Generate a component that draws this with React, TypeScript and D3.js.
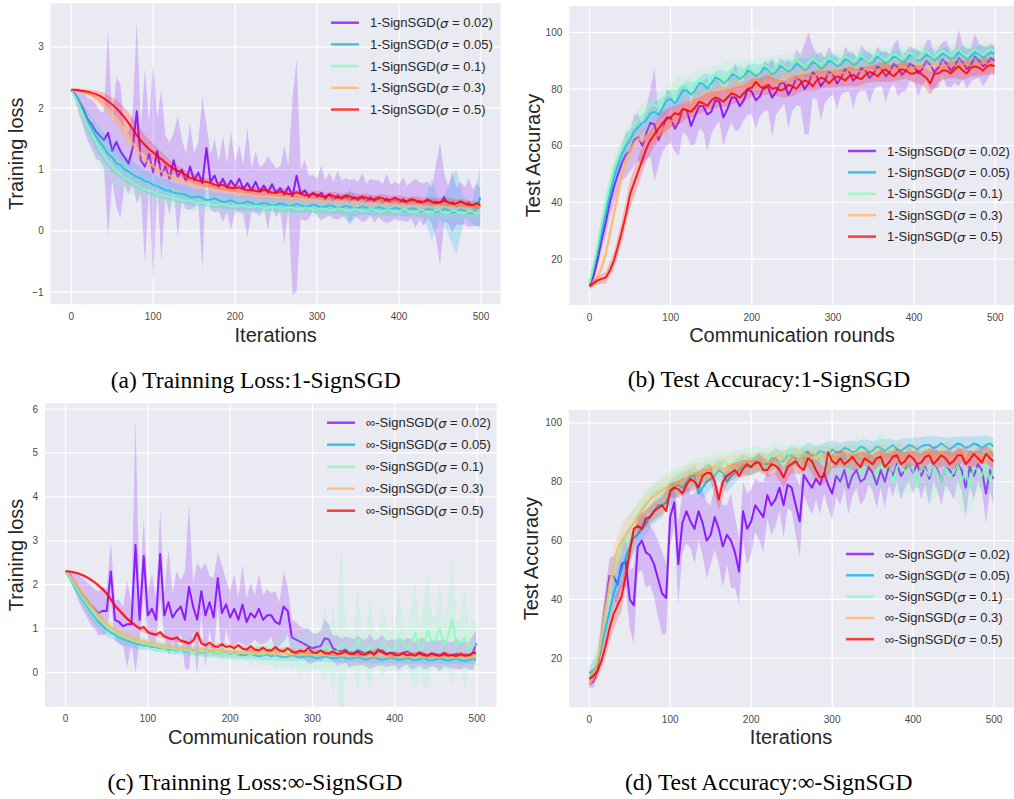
import React from "react";
import * as d3 from "d3";

// x grids: fine (every 5 iterations) for the mean lines, coarse (every 10) for the smoother bands
const ITER = [0,5,10,15,20,25,30,35,40,45,50,55,60,65,70,75,80,85,90,95,
100,105,110,115,120,125,130,135,140,145,150,155,160,165,170,175,180,185,190,195,
200,205,210,215,220,225,230,235,240,245,250,255,260,265,270,275,280,285,290,295,
300,305,310,315,320,325,330,335,340,345,350,355,360,365,370,375,380,385,390,395,
400,405,410,415,420,425,430,435,440,445,450,455,460,465,470,475,480,485,490,495,499];
const ITER_C = [0,10,20,30,40,50,60,70,80,90,100,110,120,130,140,150,160,170,180,190,200,210,220,230,240,250,260,270,280,290,300,310,320,330,340,350,360,370,380,390,400,410,420,430,440,450,460,470,480,490,499];
const X_TICKS = [0,100,200,300,400,500];
const COLORS = ["#8000ff","#00b4eb","#80ffb4","#ffb462","#ff0000"];
const SIGMAS = ["0.02","0.05","0.1","0.3","0.5"];

// ---------- Panel (a): Training loss, 1-SignSGD ----------
const A_P = [2.30,2.22,2.10,1.98,1.82,1.74,1.62,1.55,1.48,1.60,
1.30,1.45,1.30,1.20,1.10,1.35,1.95,1.15,1.05,1.25,
0.95,1.30,0.90,1.05,0.85,1.15,0.88,1.00,0.80,1.05,
0.82,0.95,0.78,1.35,0.80,0.90,0.72,0.85,0.70,0.82,
0.72,0.85,0.68,0.78,0.66,0.80,0.64,0.74,0.62,0.76,
0.62,0.70,0.58,0.72,0.56,0.90,0.60,0.66,0.55,0.62,
0.55,0.62,0.52,0.60,0.50,0.58,0.52,0.56,0.48,0.55,
0.50,0.54,0.47,0.55,0.48,0.52,0.46,0.53,0.45,0.50,
0.46,0.52,0.44,0.50,0.45,0.49,0.43,0.50,0.42,0.48,
0.44,0.55,0.42,0.47,0.40,0.45,0.41,0.46,0.38,0.43,0.40];
const A_P_SD = [0.00,0.10,0.22,0.30,0.35,0.40,0.45,0.40,0.45,1.70,
0.50,1.05,1.10,0.45,0.50,0.60,1.50,0.55,1.60,0.50,
1.80,0.55,1.40,0.50,0.60,0.45,1.00,0.50,0.45,0.70,
0.45,0.50,1.40,0.40,0.45,0.60,0.40,0.70,0.40,0.80,
0.40,0.55,0.40,0.90,0.35,0.50,0.40,0.35,0.60,0.35,
0.40,0.35,0.80,0.35,1.60,1.90,0.40,0.50,0.35,0.30,
0.30,0.45,0.30,0.35,0.30,0.40,0.30,0.30,0.35,0.30,
0.30,0.40,0.30,0.30,0.35,0.30,0.30,0.40,0.30,0.30,
0.30,0.35,0.30,0.30,0.40,0.30,0.35,0.30,0.30,0.60,
1.00,0.40,0.30,0.50,0.30,0.35,0.30,0.40,0.30,0.35,0.30];
const A_B = [2.30,2.20,2.08,1.92,1.78,1.66,1.54,1.45,1.36,1.25,
1.20,1.10,1.08,1.00,0.97,0.92,0.88,0.86,0.81,0.79,
0.75,0.73,0.70,0.66,0.66,0.62,0.61,0.60,0.59,0.55,
0.55,0.56,0.54,0.50,0.51,0.53,0.50,0.47,0.48,0.50,
0.47,0.44,0.45,0.48,0.46,0.42,0.43,0.46,0.44,0.41,
0.42,0.45,0.43,0.40,0.41,0.44,0.42,0.39,0.40,0.43,
0.41,0.38,0.39,0.42,0.40,0.37,0.38,0.41,0.39,0.36,
0.37,0.40,0.38,0.35,0.36,0.39,0.37,0.34,0.35,0.38,
0.36,0.33,0.34,0.37,0.36,0.32,0.33,0.36,0.35,0.31,
0.32,0.36,0.34,0.30,0.31,0.35,0.33,0.29,0.30,0.36,0.55];
const A_B_SD = [0.00,0.10,0.18,0.22,0.24,0.25,0.22,0.20,0.20,0.18,
0.18,0.16,0.16,0.15,0.15,0.14,0.14,0.14,0.13,0.13,
0.13,0.12,0.13,0.12,0.12,0.12,0.12,0.12,0.12,0.11,
0.12,0.11,0.12,0.11,0.30,0.11,0.12,0.11,0.12,0.11,
0.12,0.11,0.12,0.11,0.50,0.12,0.40,0.70,0.12,0.20,0.50];
const A_G = [2.30,2.18,2.04,1.88,1.72,1.60,1.46,1.33,1.23,1.12,
1.06,0.97,0.93,0.86,0.83,0.78,0.75,0.70,0.68,0.66,
0.63,0.60,0.58,0.57,0.55,0.52,0.52,0.50,0.49,0.49,
0.47,0.45,0.46,0.44,0.44,0.42,0.43,0.44,0.42,0.40,
0.40,0.42,0.41,0.38,0.39,0.41,0.40,0.37,0.37,0.40,
0.39,0.36,0.36,0.39,0.38,0.35,0.35,0.38,0.37,0.34,
0.35,0.37,0.36,0.33,0.34,0.37,0.36,0.33,0.33,0.36,
0.35,0.32,0.33,0.36,0.35,0.31,0.32,0.35,0.34,0.31,
0.32,0.35,0.34,0.30,0.31,0.34,0.33,0.30,0.30,0.34,
0.33,0.29,0.30,0.33,0.32,0.29,0.29,0.32,0.31,0.28,0.30];
const A_G_SD = [0.00,0.12,0.22,0.28,0.30,0.28,0.25,0.22,0.20,0.18,
0.17,0.16,0.15,0.15,0.14,0.14,0.13,0.13,0.13,0.12,
0.12,0.13,0.12,0.12,0.13,0.12,0.12,0.13,0.12,0.12,
0.13,0.12,0.12,0.13,0.12,0.12,0.13,0.12,0.12,0.13,
0.12,0.12,0.13,0.12,0.12,0.13,0.12,0.12,0.13,0.12,0.12];
const A_O = [2.30,2.29,2.28,2.26,2.24,2.21,2.16,2.11,2.04,1.97,
1.90,1.81,1.72,1.62,1.52,1.42,1.33,1.25,1.17,1.10,
1.05,1.00,0.97,0.93,0.90,0.88,0.85,0.82,0.80,0.78,
0.76,0.75,0.73,0.72,0.71,0.70,0.68,0.67,0.66,0.66,
0.64,0.62,0.61,0.62,0.61,0.58,0.57,0.59,0.58,0.55,
0.55,0.57,0.56,0.53,0.53,0.56,0.54,0.51,0.51,0.54,
0.52,0.49,0.49,0.52,0.51,0.48,0.48,0.51,0.49,0.46,
0.47,0.50,0.48,0.45,0.46,0.49,0.47,0.44,0.45,0.48,
0.46,0.43,0.44,0.47,0.45,0.42,0.43,0.46,0.43,0.41,
0.42,0.45,0.43,0.40,0.41,0.44,0.41,0.39,0.39,0.42,0.38];
const A_O_SD = [0.00,0.02,0.04,0.06,0.08,0.10,0.12,0.13,0.13,0.12,
0.11,0.10,0.10,0.09,0.09,0.09,0.09,0.08,0.09,0.08,
0.09,0.08,0.09,0.08,0.09,0.08,0.09,0.08,0.09,0.08,
0.09,0.08,0.09,0.08,0.09,0.08,0.09,0.08,0.09,0.08,
0.09,0.08,0.09,0.08,0.09,0.08,0.09,0.08,0.09,0.08,0.08];
const A_R = [2.30,2.30,2.29,2.28,2.27,2.25,2.23,2.20,2.16,2.11,
2.06,2.00,1.93,1.85,1.76,1.66,1.56,1.47,1.40,1.33,
1.28,1.22,1.17,1.11,1.06,1.01,0.98,0.96,0.91,0.86,
0.85,0.82,0.80,0.80,0.78,0.75,0.74,0.75,0.72,0.70,
0.70,0.71,0.68,0.66,0.67,0.65,0.64,0.67,0.65,0.62,
0.62,0.64,0.63,0.60,0.60,0.63,0.61,0.58,0.58,0.61,
0.59,0.56,0.56,0.59,0.57,0.54,0.55,0.58,0.56,0.53,
0.54,0.56,0.54,0.51,0.52,0.55,0.53,0.50,0.51,0.54,
0.51,0.48,0.49,0.52,0.50,0.47,0.48,0.51,0.48,0.45,
0.47,0.49,0.47,0.44,0.45,0.48,0.45,0.42,0.42,0.45,0.42];
const A_R_SD = [0.00,0.02,0.04,0.06,0.09,0.12,0.15,0.18,0.18,0.16,
0.14,0.12,0.10,0.09,0.08,0.08,0.07,0.07,0.07,0.07,
0.07,0.06,0.07,0.06,0.07,0.06,0.07,0.06,0.07,0.06,
0.07,0.06,0.07,0.06,0.07,0.06,0.07,0.06,0.07,0.06,
0.07,0.06,0.07,0.06,0.07,0.06,0.07,0.06,0.07,0.06,0.06];

// ---------- Panel (b): Test accuracy, 1-SignSGD ----------
const B_P = [10.5,14.0,20.0,27.0,33.0,40.0,45.5,50.0,54.0,57.0,
58.0,62.0,63.0,60.0,64.5,68.0,67.5,62.0,66.0,70.0,
70.0,66.0,68.5,73.0,72.5,67.0,70.5,74.0,74.0,71.0,
72.0,76.0,75.5,70.0,73.0,77.0,77.0,74.0,76.0,80.0,
79.0,76.0,77.5,81.0,80.5,77.0,79.0,82.0,82.0,78.0,
80.5,84.0,83.0,80.0,82.0,86.0,84.5,81.0,83.0,86.0,
85.0,82.0,84.0,87.0,86.0,83.0,84.5,87.5,86.5,84.0,
85.5,88.0,87.0,84.5,86.0,89.0,87.5,85.0,86.5,89.0,
88.0,85.5,87.0,90.0,88.5,86.0,87.5,90.5,89.0,86.5,
88.0,91.0,89.5,87.0,88.5,91.5,90.0,88.0,89.0,91.0,90.0];
const B_P_SD = [1.0,2.0,3.0,4.0,5.0,5.0,6.0,6.0,6.0,8.0,
7.0,9.0,8.0,7.0,9.0,12.0,20.0,9.0,8.0,10.0,
9.0,8.0,12.0,8.0,9.0,7.0,10.0,8.0,9.0,13.0,
8.0,9.0,7.0,10.0,8.0,9.0,12.0,8.0,7.0,9.0,
8.0,10.0,7.0,9.0,8.0,14.0,8.0,9.0,7.0,12.0,
8.0,10.0,9.0,16.0,18.0,9.0,8.0,12.0,8.0,9.0,
7.0,9.0,6.0,8.0,7.0,10.0,6.0,8.0,7.0,9.0,
6.0,7.0,6.0,9.0,6.0,7.0,10.0,6.0,7.0,6.0,
6.0,8.0,6.0,7.0,9.0,6.0,7.0,6.0,8.0,6.0,
6.0,10.0,6.0,7.0,6.0,8.0,6.0,7.0,6.0,5.0,5.0];
const B_B = [11.5,17.0,23.0,30.0,37.0,43.0,49.0,53.0,57.0,60.0,
62.0,65.0,66.5,68.0,69.0,71.5,72.0,71.0,73.5,76.0,
76.5,75.0,77.0,79.5,79.5,78.0,79.5,82.0,82.0,80.0,
82.0,84.0,83.5,82.0,83.0,85.0,85.0,83.5,84.5,86.5,
86.0,84.5,85.5,87.5,87.0,85.0,86.0,88.0,87.5,86.0,
87.0,89.0,88.0,86.5,87.5,89.5,89.0,87.0,88.0,90.0,
89.5,88.0,88.5,90.5,90.0,88.5,89.0,91.0,90.5,89.0,
89.5,91.5,90.5,89.0,90.0,91.5,91.0,89.5,90.0,92.0,
91.5,90.0,90.5,92.0,91.5,90.0,91.0,92.5,92.0,90.5,
91.0,93.0,92.0,90.5,91.5,93.0,92.5,91.0,92.0,93.0,92.5];
const B_B_SD = [1.0,3.0,4.0,4.0,4.0,4.0,3.5,3.5,3.5,3.5,
3.5,3.0,3.5,3.0,3.5,3.0,3.5,3.0,3.5,3.0,
3.0,3.2,3.0,3.4,3.0,3.2,3.0,3.5,3.0,3.2,
3.0,2.5,3.0,2.5,3.0,2.5,3.0,2.5,3.0,2.5,
3.0,2.5,3.0,2.5,3.0,2.5,3.0,2.5,3.0,2.5,3.0];
const B_G = [11.5,18.0,25.0,33.0,40.0,46.0,52.0,56.0,59.5,62.5,
64.5,67.5,69.0,70.0,72.0,74.5,74.5,73.5,76.5,78.0,
78.0,77.0,80.0,81.5,80.5,79.5,82.0,83.5,82.5,81.5,
84.0,85.5,84.5,83.0,85.5,87.0,85.5,84.5,86.5,87.5,
86.5,85.5,87.5,88.5,87.5,86.0,88.5,89.5,88.0,87.0,
89.0,90.5,89.0,88.0,89.5,91.0,89.5,88.5,90.0,91.0,
90.0,89.0,90.5,91.5,90.5,89.5,91.0,92.0,90.5,89.5,
91.5,92.5,91.0,90.0,91.5,92.5,91.5,90.5,92.0,93.0,
91.5,90.5,92.5,93.5,92.0,91.0,92.5,93.5,92.5,91.5,
93.0,94.0,92.5,91.5,93.0,94.0,93.0,92.0,93.5,94.0,93.0];
const B_G_SD = [1.0,3.0,4.0,4.0,4.0,4.0,4.0,4.0,4.0,4.0,
4.0,4.5,4.0,4.0,4.5,4.0,4.0,4.5,4.0,4.0,
4.0,3.5,4.0,3.5,4.0,3.5,4.0,3.5,3.5,3.5,
3.5,3.0,3.5,3.0,3.5,3.0,3.5,3.0,3.0,3.0,
3.0,3.2,3.0,3.3,3.0,3.2,3.0,3.4,3.0,3.2,3.0];
const B_O = [10.0,11.5,14.0,17.0,22.0,29.0,36.0,43.0,50.0,55.0,
58.0,61.0,62.5,61.5,63.5,64.0,64.5,63.5,66.0,67.5,
68.5,69.0,71.0,72.5,73.5,74.0,76.0,75.5,77.0,78.5,
78.5,77.5,79.5,80.5,80.0,79.0,81.0,82.0,81.5,80.5,
82.5,83.5,82.0,81.5,83.5,84.5,83.0,82.5,84.5,85.0,
84.0,83.5,85.0,86.0,85.5,84.5,85.0,86.5,86.0,85.0,
85.5,87.0,86.0,85.5,87.0,87.5,86.5,86.0,87.0,88.0,
87.0,86.5,87.5,88.5,87.0,86.5,87.5,88.5,87.5,87.0,
87.5,89.0,88.0,87.0,88.0,89.0,88.5,87.5,88.0,89.5,
88.5,87.5,88.5,89.5,88.0,87.5,88.5,89.5,89.0,88.0,88.5];
const B_O_SD = [1.0,2.0,3.0,4.0,4.0,4.0,3.5,3.5,3.5,3.5,
3.5,3.5,3.5,3.5,3.0,3.2,3.0,3.3,3.0,3.2,
3.0,3.4,3.0,3.2,3.0,3.3,3.0,3.2,3.0,3.4,
3.0,3.2,3.0,3.3,3.0,3.2,3.0,3.4,3.0,3.2,
3.0,3.3,3.0,3.2,3.0,3.4,3.0,3.2,3.0,3.3,3.0];
const B_R = [10.5,11.5,12.5,13.0,13.5,16.0,19.5,24.5,30.0,36.0,
43.0,47.0,51.0,55.0,59.0,62.0,64.0,66.0,68.0,69.5,
70.0,71.5,71.0,73.0,72.5,72.0,73.5,75.5,75.0,74.0,
76.0,77.0,76.5,75.5,77.0,78.5,78.0,77.0,78.5,80.0,
80.5,82.5,81.0,80.0,81.5,80.0,80.5,79.5,80.0,81.5,
81.0,80.0,82.0,83.0,82.5,81.0,83.0,84.0,83.5,82.0,
83.5,84.5,84.0,83.0,84.5,85.0,84.0,83.5,85.0,86.0,
85.5,84.5,86.0,87.0,85.5,84.5,86.0,87.0,86.5,85.5,
85.5,86.5,85.0,84.0,82.0,85.5,85.5,86.5,86.5,85.5,
87.0,88.0,86.5,85.5,87.5,88.0,87.5,86.5,88.0,88.5,88.0];
const B_R_SD = [1.0,1.5,2.0,3.0,4.0,5.0,5.0,4.5,4.0,4.0,
3.5,3.5,3.0,3.0,3.0,3.0,3.0,3.0,3.0,3.0,
3.0,3.0,3.5,3.0,3.0,3.5,3.0,3.0,3.5,3.0,
3.0,3.0,3.5,3.0,3.0,3.0,3.5,3.0,3.0,3.0,
3.0,3.5,4.0,3.0,3.0,3.0,3.5,3.0,3.0,3.0,3.0];

// ---------- Panel (c): Training loss, inf-SignSGD ----------
const C_P = [2.30,2.22,2.10,1.95,1.80,1.68,1.55,1.45,1.35,1.40,
1.40,2.30,1.20,1.15,1.05,1.10,1.10,2.90,1.20,2.65,
1.30,1.45,1.20,2.70,1.30,1.60,1.25,1.40,1.50,1.20,
1.95,1.50,1.20,1.85,1.30,1.60,1.25,2.15,1.35,1.55,
1.25,1.45,1.20,1.55,1.15,1.35,1.25,1.45,1.20,1.30,
1.30,1.15,1.10,1.50,1.40,0.80,0.75,0.70,0.65,0.60,
0.55,0.58,0.60,0.78,0.75,0.55,0.50,0.48,0.52,0.46,
0.45,0.50,0.47,0.44,0.48,0.43,0.46,0.50,0.42,0.45,
0.45,0.41,0.44,0.48,0.42,0.40,0.46,0.43,0.39,0.44,
0.42,0.38,0.45,0.40,0.39,0.43,0.37,0.41,0.38,0.45,0.66];
const C_P_SD = [0.00,0.10,0.20,0.28,0.35,0.40,0.45,0.45,0.50,0.55,
0.50,0.70,0.45,0.50,0.45,1.00,0.45,2.90,0.50,0.85,
0.55,0.80,0.50,1.00,0.50,1.20,0.55,0.90,0.60,1.10,
1.90,0.55,1.30,0.50,1.20,0.60,0.90,0.60,1.10,0.55,
0.60,0.80,0.50,0.90,0.55,0.70,0.50,0.80,0.55,0.60,
0.50,0.70,0.50,0.80,0.55,0.40,0.40,0.35,0.35,0.40,
0.35,0.30,0.35,0.45,0.35,0.30,0.35,0.30,0.30,0.35,
0.30,0.35,0.30,0.30,0.40,0.30,0.30,0.35,0.30,0.30,
0.30,0.35,0.30,0.30,0.35,0.30,0.30,0.35,0.30,0.30,
0.30,0.35,0.30,0.30,0.30,0.35,0.30,0.30,0.30,0.40,0.30];
const C_B = [2.30,2.15,2.00,1.84,1.68,1.54,1.40,1.28,1.16,1.06,
0.98,0.91,0.86,0.80,0.76,0.72,0.69,0.66,0.64,0.61,
0.62,0.58,0.58,0.55,0.56,0.52,0.53,0.50,0.52,0.48,
0.49,0.51,0.48,0.45,0.46,0.49,0.46,0.43,0.45,0.47,
0.42,0.44,0.41,0.39,0.40,0.43,0.39,0.37,0.39,0.41,
0.37,0.39,0.37,0.35,0.36,0.39,0.36,0.34,0.36,0.38,
0.35,0.33,0.34,0.37,0.34,0.32,0.33,0.36,0.33,0.31,
0.33,0.35,0.32,0.30,0.32,0.35,0.31,0.29,0.31,0.34,
0.31,0.29,0.30,0.33,0.30,0.28,0.30,0.33,0.29,0.27,
0.30,0.32,0.29,0.27,0.29,0.32,0.28,0.26,0.28,0.31,0.28];
const C_B_SD = [0.00,0.10,0.15,0.18,0.18,0.16,0.14,0.13,0.12,0.12,
0.11,0.11,0.10,0.11,0.10,0.11,0.10,0.11,0.10,0.11,
0.10,0.09,0.11,0.09,0.11,0.09,0.11,0.09,0.11,0.09,
0.11,0.09,0.11,0.09,0.11,0.09,0.11,0.09,0.11,0.09,
0.11,0.09,0.11,0.09,0.11,0.09,0.11,0.09,0.11,0.09,0.10];
const C_G = [2.30,2.16,2.02,1.87,1.72,1.58,1.45,1.33,1.22,1.13,
1.04,0.98,0.92,0.86,0.82,0.78,0.74,0.71,0.68,0.66,
0.64,0.62,0.60,0.57,0.56,0.55,0.54,0.52,0.52,0.50,
0.50,0.48,0.48,0.47,0.47,0.45,0.46,0.44,0.45,0.43,
0.44,0.42,0.43,0.47,0.45,0.41,0.44,0.48,0.41,0.45,
0.44,0.40,0.45,0.50,0.42,0.46,0.48,0.42,0.44,0.52,
0.50,0.45,0.46,0.60,0.55,0.47,0.48,0.65,0.60,0.50,
0.50,0.75,0.52,0.48,0.62,0.55,0.48,0.70,0.58,0.50,
0.55,0.80,0.70,0.52,0.65,0.90,0.52,0.60,0.95,0.70,
0.75,1.00,0.60,0.85,1.20,0.62,0.70,0.80,0.55,0.65,0.60];
const C_G_SD = [0.00,0.06,0.12,0.16,0.20,0.22,0.22,0.21,0.20,0.19,
0.18,0.17,0.16,0.15,0.15,0.14,0.14,0.13,0.13,0.13,
0.13,0.13,0.13,0.12,0.13,0.12,0.13,0.12,0.13,0.12,
0.13,0.12,0.13,0.12,0.13,0.12,0.14,0.15,0.14,0.16,
0.15,0.18,0.16,0.20,0.18,0.25,0.20,0.30,0.22,0.28,
0.25,0.35,0.28,0.45,0.30,0.40,0.35,0.50,0.40,0.55,
0.45,0.35,0.40,0.90,0.40,1.00,0.40,2.40,0.60,0.40,
0.45,1.20,0.40,0.50,1.10,0.45,0.40,0.90,0.50,0.45,
0.50,1.00,0.60,0.45,0.80,1.30,0.50,0.90,1.40,0.55,
0.60,1.10,0.50,0.90,1.50,0.50,0.60,1.20,0.50,0.60,0.50];
const C_O = [2.30,2.21,2.10,1.97,1.82,1.68,1.54,1.42,1.30,1.20,
1.10,1.03,0.96,0.91,0.86,0.82,0.78,0.75,0.72,0.70,
0.67,0.66,0.64,0.61,0.60,0.60,0.58,0.56,0.56,0.56,
0.54,0.52,0.52,0.53,0.51,0.49,0.50,0.51,0.49,0.47,
0.48,0.49,0.46,0.45,0.47,0.48,0.45,0.44,0.46,0.46,
0.43,0.42,0.45,0.46,0.42,0.41,0.44,0.45,0.42,0.40,
0.43,0.44,0.40,0.39,0.42,0.44,0.41,0.38,0.41,0.43,
0.39,0.38,0.40,0.42,0.38,0.37,0.40,0.42,0.38,0.36,
0.39,0.41,0.37,0.36,0.38,0.40,0.37,0.35,0.38,0.40,
0.36,0.35,0.37,0.39,0.36,0.34,0.37,0.39,0.36,0.35,0.36];
const C_O_SD = [0.00,0.08,0.12,0.14,0.14,0.13,0.12,0.11,0.10,0.10,
0.09,0.09,0.09,0.08,0.09,0.08,0.09,0.08,0.09,0.08,
0.09,0.08,0.09,0.08,0.09,0.08,0.09,0.08,0.09,0.08,
0.09,0.08,0.09,0.08,0.09,0.08,0.09,0.08,0.09,0.08,
0.09,0.08,0.09,0.08,0.09,0.08,0.09,0.08,0.09,0.08,0.08];
const C_R = [2.31,2.30,2.28,2.26,2.22,2.18,2.12,2.06,1.98,1.90,
1.80,1.66,1.52,1.42,1.32,1.22,1.14,1.07,1.00,1.04,
0.92,0.88,0.86,0.92,0.82,0.78,0.76,0.80,0.72,0.70,
0.66,0.72,0.90,0.66,0.62,0.68,0.60,0.58,0.64,0.58,
0.60,0.55,0.62,0.54,0.52,0.60,0.52,0.50,0.56,0.50,
0.50,0.58,0.50,0.48,0.55,0.47,0.45,0.50,0.47,0.56,
0.46,0.44,0.50,0.44,0.43,0.48,0.42,0.43,0.48,0.42,
0.42,0.47,0.41,0.41,0.46,0.40,0.52,0.46,0.41,0.45,
0.40,0.39,0.44,0.39,0.41,0.38,0.44,0.39,0.38,0.43,
0.39,0.38,0.42,0.38,0.40,0.37,0.42,0.38,0.39,0.44,0.45];
const C_R_SD = [0.00,0.02,0.03,0.04,0.05,0.06,0.06,0.06,0.05,0.05,
0.05,0.04,0.05,0.04,0.05,0.04,0.05,0.04,0.05,0.04,
0.05,0.04,0.05,0.04,0.05,0.04,0.05,0.04,0.05,0.04,
0.05,0.04,0.05,0.04,0.05,0.04,0.05,0.04,0.05,0.04,
0.05,0.04,0.05,0.04,0.05,0.04,0.05,0.04,0.05,0.04,0.05];

// ---------- Panel (d): Test accuracy, inf-SignSGD ----------
const D_P = [11.0,12.0,16.0,28.0,38.0,48.0,48.0,45.0,52.0,53.0,
40.0,38.0,58.0,60.0,56.0,55.0,52.0,47.0,42.0,40.5,
68.0,73.0,52.0,66.0,70.0,66.5,64.0,70.0,66.0,60.0,
62.0,68.0,64.0,58.0,62.0,60.0,56.0,49.5,70.0,64.0,
66.5,72.0,70.0,68.0,75.5,72.0,74.0,78.0,72.0,79.0,
78.0,72.0,66.5,82.3,80.0,78.0,81.0,79.0,83.0,79.0,
76.0,82.0,80.0,84.0,78.0,82.0,84.0,80.0,81.0,85.0,
83.0,79.0,84.0,80.0,85.0,82.0,86.0,82.0,84.0,86.0,
83.0,86.0,82.0,85.0,81.0,86.0,84.0,80.0,85.0,84.0,
82.0,86.0,84.0,78.0,85.0,82.0,86.0,84.0,76.0,84.0,81.0];
const D_P_SD = [1.0,2.0,3.0,5.0,6.0,6.0,7.0,8.0,8.0,9.0,
10.0,13.0,9.0,10.0,12.0,10.0,11.0,13.0,14.0,12.0,
10.0,8.0,14.0,10.0,11.0,9.0,12.0,10.0,11.0,13.0,
10.0,11.0,12.0,14.0,10.0,16.0,12.0,11.0,10.0,12.0,
11.0,9.0,10.0,12.0,8.0,10.0,9.0,8.0,11.0,8.0,
8.0,10.0,12.0,7.0,8.0,9.0,7.0,10.0,7.0,8.0,
9.0,7.0,8.0,6.0,9.0,7.0,6.0,8.0,7.0,6.0,
6.0,8.0,6.0,9.0,6.0,7.0,6.0,8.0,6.0,6.0,
7.0,6.0,8.0,6.0,9.0,6.0,7.0,8.0,6.0,7.0,
8.0,6.0,7.0,10.0,6.0,8.0,6.0,7.0,10.0,7.0,9.0];
const D_B = [15.0,16.0,18.0,24.0,30.0,36.0,42.0,46.0,50.0,54.0,
58.0,61.0,62.0,64.0,66.0,68.0,70.0,72.0,72.0,73.0,
76.0,78.0,79.0,78.0,80.0,82.0,82.0,76.0,78.0,80.0,
81.0,82.0,84.0,83.0,80.0,82.0,83.0,84.0,86.0,85.0,
85.0,87.0,87.0,86.0,86.0,88.0,88.0,87.0,87.0,89.0,
89.0,88.0,88.0,90.0,90.0,89.0,89.0,90.5,90.0,89.0,
91.0,90.0,90.0,91.5,91.0,90.0,90.5,92.0,91.5,90.0,
90.5,92.0,91.5,90.5,91.5,92.5,91.0,90.5,91.5,92.5,
92.0,91.0,92.0,92.5,92.5,91.5,92.0,93.0,92.0,91.0,
92.0,93.0,92.5,91.5,92.0,93.0,92.5,91.5,92.5,93.0,92.0];
const D_B_SD = [2.0,4.0,5.0,5.0,5.0,5.0,4.0,4.0,4.0,4.0,
4.0,3.5,4.0,3.5,4.0,3.5,4.0,3.5,3.5,3.5,
3.0,3.2,3.0,3.3,3.0,3.2,3.0,3.4,3.0,3.2,
3.0,3.3,3.0,3.2,3.0,3.4,3.0,3.2,3.0,3.3,
3.0,3.2,3.0,3.4,3.0,3.2,3.0,3.3,3.0,3.2,3.0];
const D_G = [12.0,15.0,20.0,28.0,36.0,43.0,50.0,54.0,58.0,61.0,
64.0,66.0,69.0,71.0,73.0,74.0,76.0,77.0,78.0,78.0,
80.0,81.0,81.0,80.0,82.0,84.0,84.0,83.0,84.0,86.0,
85.0,84.0,86.0,87.0,86.0,85.0,87.0,88.0,87.0,86.0,
88.0,89.0,88.0,86.0,87.0,89.0,89.0,87.0,88.0,90.0,
88.0,86.0,89.0,90.0,87.0,85.0,88.0,89.0,86.0,84.0,
88.0,86.0,85.0,87.0,84.0,86.0,88.0,83.0,85.0,87.0,
85.0,82.0,87.0,84.0,86.0,80.0,85.0,87.0,83.0,86.0,
84.0,78.0,86.0,84.0,82.0,86.0,83.0,80.0,85.0,82.0,
83.0,86.0,80.0,84.0,78.0,85.0,84.0,82.0,86.0,80.0,84.0];
const D_G_SD = [2.0,4.0,5.0,5.0,5.0,5.0,4.5,4.5,4.0,4.0,
4.0,4.0,4.0,4.0,4.0,4.0,4.0,4.0,4.0,4.0,
4.0,4.0,4.5,4.0,4.5,4.5,4.0,5.0,5.0,6.0,
5.0,7.0,6.0,8.0,6.0,7.0,10.0,6.0,9.0,7.0,
8.0,6.0,10.0,7.0,9.0,6.0,11.0,8.0,7.0,10.0,8.0];
const D_O = [11.0,13.0,18.0,27.0,36.0,45.0,52.0,57.0,60.0,62.0,
64.0,66.0,68.0,70.0,72.0,74.0,75.0,76.0,77.0,78.0,
79.0,79.0,80.0,81.0,82.0,83.0,83.0,82.0,83.0,84.0,
84.0,85.0,85.0,84.0,85.0,86.0,86.0,85.0,86.0,87.0,
87.0,86.0,87.0,88.0,87.0,86.0,88.0,89.0,88.0,87.0,
88.0,89.0,89.0,88.0,88.0,90.0,89.0,88.0,89.0,90.0,
89.0,88.0,89.0,90.0,90.0,88.0,89.0,90.0,89.0,88.0,
89.0,90.0,90.0,89.0,89.0,90.0,90.0,88.0,89.0,90.0,
90.0,89.0,89.0,90.0,90.0,88.0,89.0,90.0,90.0,89.0,
89.0,90.0,90.0,88.0,89.0,90.0,89.0,88.0,89.0,90.0,89.0];
const D_O_SD = [2.0,4.0,5.0,6.0,6.0,5.0,4.5,4.0,4.0,4.0,
3.5,3.5,3.5,3.5,3.5,3.5,3.5,3.5,3.5,3.5,
3.0,3.2,3.0,3.3,3.0,3.2,3.0,3.4,3.0,3.2,
3.0,3.3,3.0,3.2,3.0,3.4,3.0,3.2,3.0,3.3,
3.0,3.2,3.0,3.4,3.0,3.2,3.0,3.3,3.0,3.2,3.0];
const D_R = [13.0,14.0,15.5,19.0,24.0,30.0,35.0,38.0,41.0,48.0,
56.0,64.0,65.0,64.0,67.5,68.0,70.0,71.0,72.0,70.0,
77.0,78.0,77.5,76.0,79.0,81.0,80.0,78.0,82.0,83.0,
83.0,80.0,74.0,80.0,82.0,83.0,84.0,82.0,84.5,86.0,
85.0,86.5,86.5,84.0,84.0,86.0,85.5,84.0,81.5,85.0,
86.0,87.0,85.0,84.0,88.0,87.0,84.0,81.5,82.0,90.0,
87.0,86.0,88.0,86.0,87.0,88.5,86.5,85.0,88.0,87.0,
86.0,88.0,88.5,85.0,86.5,88.5,89.0,86.0,87.0,89.0,
88.0,86.0,86.5,88.5,89.0,86.0,87.5,89.0,88.0,86.0,
87.0,89.0,89.0,86.0,87.5,89.5,88.0,86.5,89.5,88.0,87.0];
const D_R_SD = [1.5,2.5,4.0,5.0,5.0,4.0,3.0,3.0,3.0,3.0,
2.5,3.0,2.5,3.0,2.5,3.0,3.5,3.0,2.5,3.0,
2.5,3.0,2.5,3.0,3.5,3.0,2.5,3.0,3.5,3.0,
2.5,3.0,2.5,3.0,2.5,3.0,2.5,3.0,2.5,3.0,
2.5,3.0,2.5,3.0,2.5,3.0,2.5,3.0,2.5,3.0,3.0];

type Panel = {
  id: string;
  l: number; r: number; t: number; b: number;
  yDomain: [number, number];
  yTicks: number[];
  means: number[][];
  sds: number[][];
  xLabel: string; yLabel: string; caption: string; prefix: string;
  yLabelX: number; xLabelY: number; xLabelX: number;
  captionX: number; captionY: number;
  legX: number; legY: number; legStep: number;
};

const PANELS: Panel[] = [
  { id: "a", l: 50.7, r: 500.7, t: 3.3, b: 304.3, yDomain: [-1.197, 3.71], yTicks: [-1,0,1,2,3],
    means: [A_P,A_B,A_G,A_O,A_R], sds: [A_P_SD,A_B_SD,A_G_SD,A_O_SD,A_R_SD],
    xLabel: "Iterations", yLabel: "Training loss", caption: "(a) Trainning Loss:1-SignSGD", prefix: "1",
    yLabelX: 16, xLabelX: 275.7, xLabelY: 335, captionX: 255.7, captionY: 380,
    legX: 331, legY: 22.7, legStep: 21.7 },
  { id: "b", l: 569.3, r: 1014.7, t: 6, b: 305, yDomain: [3.8, 109.3], yTicks: [20,40,60,80,100],
    means: [B_P,B_B,B_G,B_O,B_R], sds: [B_P_SD,B_B_SD,B_G_SD,B_O_SD,B_R_SD],
    xLabel: "Communication rounds", yLabel: "Test Accuracy", caption: "(b) Test Accuracy:1-SignSGD", prefix: "1",
    yLabelX: 533, xLabelX: 792, xLabelY: 335, captionX: 769, captionY: 379,
    legX: 848, legY: 151, legStep: 21.4 },
  { id: "c", l: 45, r: 496.7, t: 403.3, b: 706.7, yDomain: [-0.78, 6.13], yTicks: [0,1,2,3,4,5,6],
    means: [C_P,C_B,C_G,C_O,C_R], sds: [C_P_SD,C_B_SD,C_G_SD,C_O_SD,C_R_SD],
    xLabel: "Communication rounds", yLabel: "Training loss", caption: "(c) Trainning Loss:\u221E-SignSGD", prefix: "\u221E",
    yLabelX: 16, xLabelX: 270.8, xLabelY: 737, captionX: 255, captionY: 781.7,
    legX: 327, legY: 422.7, legStep: 22 },
  { id: "d", l: 569, r: 1013.5, t: 410, b: 707.3, yDomain: [3.33, 104.4], yTicks: [20,40,60,80,100],
    means: [D_P,D_B,D_G,D_O,D_R], sds: [D_P_SD,D_B_SD,D_G_SD,D_O_SD,D_R_SD],
    xLabel: "Iterations", yLabel: "Test Accuracy", caption: "(d) Test Accuracy:\u221E-SignSGD", prefix: "\u221E",
    yLabelX: 531, xLabelX: 791, xLabelY: 737, captionX: 768.8, captionY: 781.7,
    legX: 846, legY: 554, legStep: 21.3 },
];

const SANS = "'Liberation Sans', Arial, Helvetica, sans-serif";
const SERIF = "'Liberation Serif', 'Times New Roman', Times, serif";

function PanelView({ p }: { p: Panel }) {
  const x = d3.scaleLinear().domain([-25, 524]).range([p.l, p.r]);
  const y = d3.scaleLinear().domain(p.yDomain).range([p.b, p.t]);
  const line = d3.line<number>().x((_, i) => x(ITER[i])).y((d) => y(d));
  const clipId = `clip-${p.id}`;
  return (
    <g>
      <defs>
        <clipPath id={clipId}>
          <rect x={p.l} y={p.t} width={p.r - p.l} height={p.b - p.t} />
        </clipPath>
      </defs>
      <rect x={p.l} y={p.t} width={p.r - p.l} height={p.b - p.t} fill="#eaeaf2" />
      {X_TICKS.map((t) => (
        <line key={"gx" + t} x1={x(t)} x2={x(t)} y1={p.t} y2={p.b} stroke="#ffffff" strokeWidth={1.2} />
      ))}
      {p.yTicks.map((t) => (
        <line key={"gy" + t} x1={p.l} x2={p.r} y1={y(t)} y2={y(t)} stroke="#ffffff" strokeWidth={1.2} />
      ))}
      <g clipPath={`url(#${clipId})`}>
        {p.means.map((m, k) => {
          const sd = p.sds[k];
          const fine = sd.length === m.length;
          const grid = fine ? ITER : ITER_C;
          const center = (i: number) => (fine ? m[i] : i === ITER_C.length - 1 ? m[m.length - 1] : m[2 * i]);
          const area = d3.area<number>()
            .x((_, i) => x(grid[i]))
            .y0((s, i) => y(center(i) - s))
            .y1((s, i) => y(center(i) + s));
          return (
            <g key={k}>
              <path d={area(sd) || ""} fill={COLORS[k]} fillOpacity={0.2} stroke="none" />
              <path d={line(m) || ""} fill="none" stroke={COLORS[k]} strokeOpacity={0.85} strokeWidth={2} strokeLinejoin="round" />
            </g>
          );
        })}
      </g>
      {X_TICKS.map((t) => (
        <text key={"tx" + t} x={x(t)} y={p.b + 12} fontSize={10} fill="#4a4a4a" fontFamily={SANS}
          textAnchor="middle" dominantBaseline="central">{t}</text>
      ))}
      {p.yTicks.map((t) => (
        <text key={"ty" + t} x={p.l - 7} y={y(t)} fontSize={10} fill="#4a4a4a" fontFamily={SANS}
          textAnchor="end" dominantBaseline="central">{t < 0 ? "\u2212" + Math.abs(t) : t}</text>
      ))}
      <text x={p.xLabelX} y={p.xLabelY} fontSize={20} fill="#262626" fontFamily={SANS}
        textAnchor="middle" dominantBaseline="central">{p.xLabel}</text>
      <text transform={`translate(${p.yLabelX},${(p.t + p.b) / 2}) rotate(-90)`} fontSize={20} fill="#262626"
        fontFamily={SANS} textAnchor="middle" dominantBaseline="central">{p.yLabel}</text>
      {SIGMAS.map((s, k) => {
        const ly = p.legY + k * p.legStep;
        return (
          <g key={"lg" + k}>
            <line x1={p.legX} x2={p.legX + 28} y1={ly} y2={ly} stroke={COLORS[k]} strokeOpacity={0.75} strokeWidth={2.5} />
            <text x={p.legX + 39} y={ly} fontSize={13} fill="#262626" fontFamily={SANS} dominantBaseline="central">
              {p.prefix}-SignSGD(<tspan fontStyle="italic" fontFamily="'DejaVu Sans', sans-serif">{"\u03C3"}</tspan>{" = " + s + ")"}
            </text>
          </g>
        );
      })}
      <text x={p.captionX} y={p.captionY} fontSize={23.5} fill="#000" fontFamily={SERIF}
        textAnchor="middle" dominantBaseline="central">{p.caption}</text>
    </g>
  );
}

export default function App() {
  return (
    <svg width={1014} height={799} viewBox="0 0 1014 799"
      style={{ position: "absolute", left: 0, top: 0, background: "#ffffff" }}>
      <rect x={0} y={0} width={1014} height={799} fill="#ffffff" />
      {PANELS.map((p) => <PanelView key={p.id} p={p} />)}
    </svg>
  );
}
